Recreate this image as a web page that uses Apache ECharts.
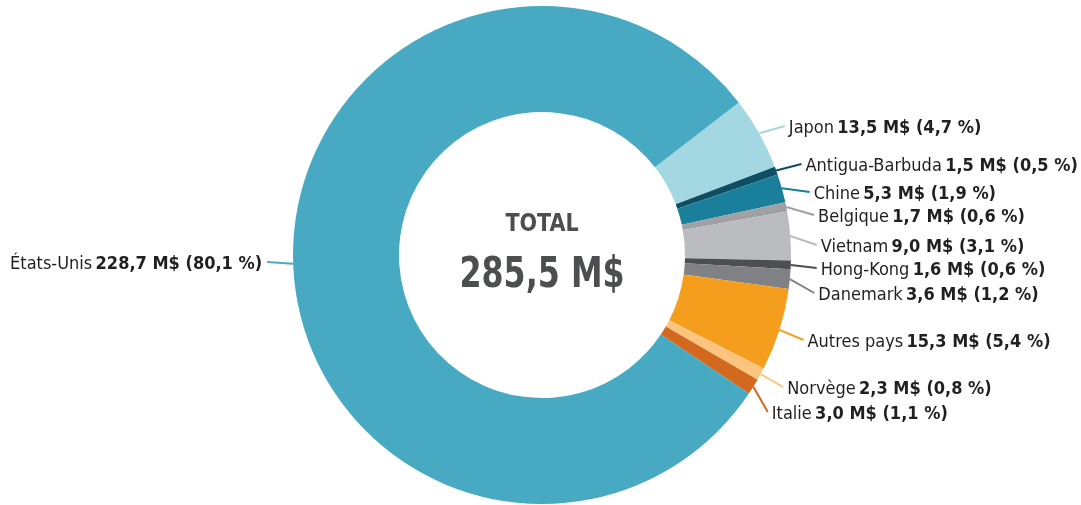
<!DOCTYPE html>
<html><head><meta charset="utf-8">
<script src="https://cdn.jsdelivr.net/npm/echarts@6/dist/echarts.min.js"></script>
<style>html,body{margin:0;padding:0;background:#fff}#c{width:1081px;height:505px}</style>
</head><body><div id="c"></div>
<script>
// ---- data ----
const categories = ['Japon','Antigua-Barbuda','Chine','Belgique','Vietnam','Hong-Kong','Danemark','Autres pays','Norvège','Italie','États-Unis'];
const valuesMD = [13.5, 1.5, 5.3, 1.7, 9.0, 1.6, 3.6, 15.3, 2.3, 3.0, 228.7];
const percents = [4.7, 0.5, 1.9, 0.6, 3.1, 0.6, 1.2, 5.4, 0.8, 1.1, 80.1];
const totalTitle = 'TOTAL';
const totalText = '285,5 M$';
const sliceColors = ['#a3d8e2','#0f4d63','#1a7f9a','#a0a1a4','#bbbcc0','#4d4e51','#808184','#f59e1e','#fcc57f','#d2691e','#48aac2'];
// label rows (layout only)
const labelRows = [126, 164, 192, 215, 245, 268, 293, 340, 387, 412, 262];

const FONT = "'Liberation Sans Narrow','DejaVu Sans Condensed','Roboto',sans-serif";
const cx = 542, cy = 255, R = 249, r = 143, lineR = 275;
const fmt = v => v.toFixed(1).replace('.', ',');

const chart = echarts.init(document.getElementById('c'), null, {renderer: 'canvas'});
chart.setOption({
  animation: false,
  backgroundColor: '#ffffff',
  graphic: [
    {type: 'text', x: cx, y: 224, scaleX: 0.92, style: {text: totalTitle, align: 'center', verticalAlign: 'middle', fontFamily: FONT, fontWeight: 'bold', fontSize: 25, fill: '#4d4e50'}},
    {type: 'text', x: cx, y: 276, scaleX: 0.84, style: {text: totalText, align: 'center', verticalAlign: 'middle', fontFamily: FONT, fontWeight: 'bold', fontSize: 42, fill: '#4d4e50'}}
  ],
  series: [{
    type: 'pie',
    center: [cx, cy],
    radius: [r, R],
    startAngle: 37.8,
    clockwise: true,
    avoidLabelOverlap: false,
    silent: true,
    data: categories.map((n, i) => ({name: n, value: valuesMD[i], itemStyle: {color: sliceColors[i]}})),
    label: {
      show: true,
      position: 'outside',
      formatter: p => '{n|' + p.name + '} {b|' + fmt(p.value) + ' M$ (' + fmt(percents[p.dataIndex]) + ' %)}',
      rich: {
        n: {fontFamily: FONT, fontSize: 18, color: '#231f20'},
        b: {fontFamily: FONT, fontSize: 18, fontWeight: 'bold', color: '#231f20'}
      }
    },
    labelLine: {show: true, length: 10, length2: 10, lineStyle: {width: 2}},
    labelLayout: function (params) {
      const i = params.dataIndex;
      const y = labelRows[i];
      const dy = y - cy;
      const dx = Math.sqrt(lineR * lineR - dy * dy);
      const left = categories[i] === 'États-Unis';
      const ex = left ? cx - dx : cx + dx;
      const p0 = params.labelLinePoints ? params.labelLinePoints[0] : [ex, y];
      return {
        x: left ? ex - 5 : ex + 4,
        y: y + 2,
        align: left ? 'right' : 'left',
        verticalAlign: 'middle',
        labelLinePoints: [p0, [ex, y], [ex, y]]
      };
    }
  }]
});
</script></body></html>
